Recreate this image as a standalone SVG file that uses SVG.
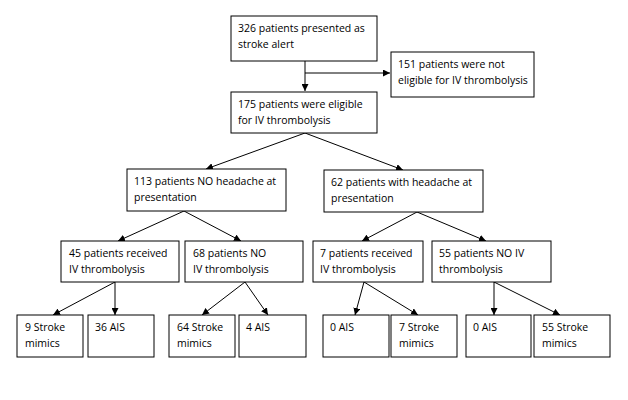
<svg xmlns="http://www.w3.org/2000/svg" width="628" height="400" viewBox="0 0 628 400">
<style>
rect{fill:#fff;stroke:#000;stroke-width:1}
text{font-family:"Open Sans","Liberation Sans",sans-serif;font-size:10.5px;fill:#000}
.c line{stroke:#000;stroke-width:1;marker-end:url(#ah)}
</style>
<defs>
<marker id="ah" viewBox="0 0 10 10" refX="10" refY="5" markerWidth="7" markerHeight="7" markerUnits="userSpaceOnUse" orient="auto">
<path d="M0,0 L10,5 L0,10 z" fill="#000"/>
</marker>
</defs>
<rect x="0" y="0" width="628" height="400" style="fill:#fff;stroke:none"/>
<g class="c">
<line x1="305" y1="61" x2="305" y2="91"/>
<line x1="305" y1="73" x2="390" y2="73"/>
<line x1="305" y1="133" x2="206" y2="169"/>
<line x1="305" y1="133" x2="403" y2="170"/>
<line x1="184" y1="211" x2="118" y2="241"/>
<line x1="184" y1="211" x2="241" y2="241"/>
<line x1="417" y1="212" x2="362" y2="241"/>
<line x1="417" y1="212" x2="486" y2="241"/>
<line x1="115" y1="282" x2="53" y2="315"/>
<line x1="115" y1="282" x2="115" y2="315"/>
<line x1="245" y1="282" x2="202" y2="315"/>
<line x1="245" y1="282" x2="268" y2="315"/>
<line x1="364" y1="282" x2="355" y2="315"/>
<line x1="364" y1="282" x2="418" y2="315"/>
<line x1="494" y1="282" x2="494" y2="315"/>
<line x1="494" y1="282" x2="560" y2="315"/>
</g>
<g id="n326"><rect x="231" y="16" width="146" height="45"/><text x="238" y="32">326 patients presented as</text><text x="238" y="48">stroke alert</text></g>
<g id="n151"><rect x="391" y="52" width="143" height="45"/><text x="398" y="68">151 patients were not</text><text x="398" y="84">eligible for IV thrombolysis</text></g>
<g id="n175"><rect x="231" y="92" width="146" height="41"/><text x="238" y="108">175 patients were eligible</text><text x="238" y="124">for IV thrombolysis</text></g>
<g id="n113"><rect x="127" y="169" width="159" height="42"/><text x="134" y="185">113 patients NO headache at</text><text x="134" y="201">presentation</text></g>
<g id="n62"><rect x="324" y="170" width="159" height="42"/><text x="331" y="186">62 patients with headache at</text><text x="331" y="202">presentation</text></g>
<g id="n45"><rect x="61" y="241" width="118" height="41"/><text x="69" y="257">45 patients received</text><text x="69" y="273">IV thrombolysis</text></g>
<g id="n68"><rect x="185" y="241" width="118" height="41"/><text x="193" y="257">68 patients NO</text><text x="193" y="273">IV thrombolysis</text></g>
<g id="n7"><rect x="313" y="241" width="110" height="41"/><text x="320" y="257">7 patients received</text><text x="320" y="273">IV thrombolysis</text></g>
<g id="n55"><rect x="432" y="241" width="119" height="41"/><text x="439" y="257">55 patients NO IV</text><text x="439" y="273">thrombolysis</text></g>
<g id="b9"><rect x="17" y="315" width="66" height="42"/><text x="25" y="331">9 Stroke</text><text x="25" y="347">mimics</text></g>
<g id="b36"><rect x="88" y="315" width="66" height="42"/><text x="95" y="331">36 AIS</text></g>
<g id="b64"><rect x="169" y="315" width="66" height="42"/><text x="177" y="331">64 Stroke</text><text x="177" y="347">mimics</text></g>
<g id="b4"><rect x="239" y="315" width="67" height="42"/><text x="246" y="331">4 AIS</text></g>
<g id="b0a"><rect x="323" y="315" width="66" height="42"/><text x="330" y="331">0 AIS</text></g>
<g id="b7s"><rect x="391" y="315" width="66" height="42"/><text x="399" y="331">7 Stroke</text><text x="399" y="347">mimics</text></g>
<g id="b0b"><rect x="466" y="315" width="65" height="42"/><text x="473" y="331">0 AIS</text></g>
<g id="b55s"><rect x="534" y="315" width="76" height="42"/><text x="542" y="331">55 Stroke</text><text x="542" y="347">mimics</text></g>
</svg>
